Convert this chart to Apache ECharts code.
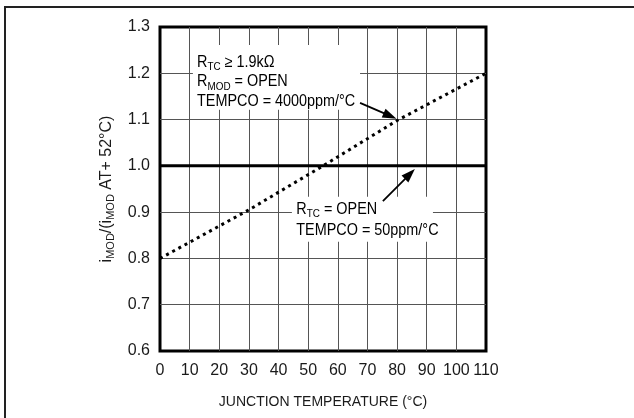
<!DOCTYPE html>
<html><head><meta charset="utf-8">
<script src="https://cdn.jsdelivr.net/npm/echarts@6/dist/echarts.min.js"></script>
<style>html,body{margin:0;padding:0;background:#fff}#c{width:634px;height:418px}</style>
</head><body><div id="c"></div>
<script>
// ---- data ----
const temps4000 = [0, 30, 55, 80, 110];
const ratio4000 = [0.80, 0.905, 1.0, 1.098, 1.20];
const temps50 = [0, 110];
const ratio50 = [1.0, 1.0];
const xMin = 0, xMax = 110, xStep = 10;
const yMin = 0.6, yMax = 1.3, yStep = 0.1;
const xTitle = 'JUNCTION TEMPERATURE (°C)';
const note1Lines = ['{m|R}{s|TC}{m| ≥ 1.9kΩ}', '{m|R}{s|MOD}{m| = OPEN}', '{m|TEMPCO = 4000ppm/°C}'];
const note2Lines = ['{m|R}{s|TC}{m| = OPEN}', '{m|TEMPCO = 50ppm/°C}'];
// annotation anchors in data coordinates
const note1Box = [[11.1, 1.261], [67.5, 1.121]];
const note1Text = [[12.5, 1.224], [12.5, 1.181], [12.5, 1.138]];
const note2Box = [[44.5, 0.933], [92.1, 0.836]];
const note2Text = [[46.0, 0.906], [46.0, 0.861]];
const arrow1 = [[67.5, 1.136], [79.8, 1.102]];
const arrow2 = [[75.2, 0.924], [86.0, 0.993]];

const FONT = "'Liberation Sans Narrow','Arial Narrow','Liberation Sans',sans-serif";
const TXT = '#1a1a1a';
const rich = {
  m: {fontSize: 16, fontFamily: FONT, color: TXT, lineHeight: 20},
  s: {fontSize: 11, fontFamily: FONT, color: TXT, lineHeight: 10, verticalAlign: 'bottom'}
};

const chart = echarts.init(document.getElementById('c'), null, {renderer: 'canvas'});
chart.setOption({
  animation: false,
  backgroundColor: '#fff',
  grid: {left: 160, top: 27, width: 326, height: 324, show: true, borderColor: '#000', borderWidth: 3, backgroundColor: 'transparent'},
  xAxis: {
    type: 'value', min: xMin, max: xMax, interval: xStep,
    axisLine: {show: false}, axisTick: {show: false},
    axisLabel: {margin: 12, fontSize: 16, fontFamily: FONT, color: TXT},
    splitLine: {show: true, showMinLine: false, showMaxLine: false, lineStyle: {color: '#555', width: 1}},
    name: xTitle, nameLocation: 'middle', nameGap: 44,
    nameTextStyle: {fontSize: 14, fontFamily: FONT, color: TXT}
  },
  yAxis: {
    type: 'value', min: yMin, max: yMax, interval: yStep,
    axisLine: {show: false}, axisTick: {show: false},
    axisLabel: {margin: 10, fontSize: 16, fontFamily: FONT, color: TXT, formatter: v => v.toFixed(1)},
    splitLine: {show: true, showMinLine: false, showMaxLine: false, lineStyle: {color: '#555', width: 1}},
    name: '{m|i}{s|MOD}{m|/(i}{s|MOD}{m| AT+ 52°C)}', nameLocation: 'middle', nameGap: 43, nameRotate: 90,
    nameTextStyle: {rich: rich}
  },
  series: [
    {type: 'line', name: 'TEMPCO = 50ppm/°C', data: temps50.map((t, i) => [t, ratio50[i]]), showSymbol: false, z: 3,
      lineStyle: {color: '#000', width: 3}},
    {type: 'line', name: 'TEMPCO = 4000ppm/°C', data: temps4000.map((t, i) => [t, ratio4000[i]]), showSymbol: false, z: 4,
      lineStyle: {color: '#000', width: 3, type: [3, 4]}}
  ]
});

function px(p) { return chart.convertToPixel({gridIndex: 0}, p); }
function boxEl(b) {
  const a = px(b[0]), c = px(b[1]);
  return {type: 'rect', z: 100, shape: {x: a[0], y: a[1], width: c[0] - a[0], height: c[1] - a[1]}, style: {fill: '#fff'}};
}
function textEl(p, t) {
  const a = px(p);
  return {type: 'text', z: 101, x: a[0], y: a[1], scaleX: 0.9, style: {text: t, rich: rich, verticalAlign: 'middle', align: 'left'}};
}
function arrowEls(ar) {
  const p0 = px(ar[0]), p1 = px(ar[1]);
  const dx = p1[0] - p0[0], dy = p1[1] - p0[1], len = Math.hypot(dx, dy);
  const ux = dx / len, uy = dy / len, L = 14, W = 4.8;
  const bx = p1[0] - ux * L, by = p1[1] - uy * L;
  return [
    {type: 'line', z: 102, shape: {x1: p0[0], y1: p0[1], x2: bx + ux * 2, y2: by + uy * 2}, style: {stroke: '#000', lineWidth: 1.8}},
    {type: 'polygon', z: 102, shape: {points: [[p1[0], p1[1]], [bx - uy * W, by + ux * W], [bx + uy * W, by - ux * W]]}, style: {fill: '#000'}}
  ];
}
const g = [];
g.push({type: 'polyline', z: 90, shape: {points: [[5, 430], [5, 7], [650, 7]]}, style: {stroke: '#222', lineWidth: 2, fill: null}});
g.push(boxEl(note1Box), boxEl(note2Box));
note1Lines.forEach((t, i) => g.push(textEl(note1Text[i], t)));
note2Lines.forEach((t, i) => g.push(textEl(note2Text[i], t)));
g.push(...arrowEls(arrow1), ...arrowEls(arrow2));
chart.setOption({graphic: {elements: g}});
</script></body></html>
